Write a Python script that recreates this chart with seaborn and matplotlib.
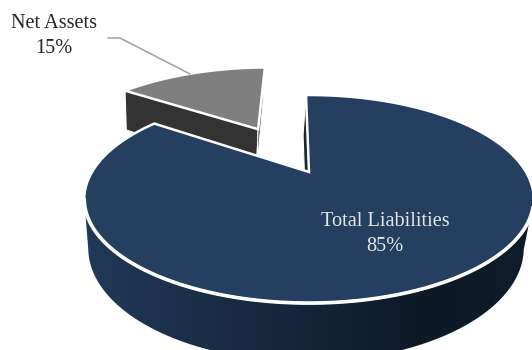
import numpy as np
import matplotlib
matplotlib.use("Agg")
import matplotlib.pyplot as plt
import seaborn as sns
from matplotlib.colors import ListedColormap
from matplotlib.patches import Polygon

# Balance sheet split
categories = ["Total Liabilities", "Net Assets"]
shares = [85, 15]

sns.set_theme(style="white")
plt.rcParams["font.family"] = ["Liberation Serif", "DejaVu Serif"]

START_ANGLE = 91.0      # where the first slice begins, degrees, running clockwise
EXPLODE = [0.0, 0.564]  # how far each slice is pulled away from the centre
ORIGIN = (309.0, 172.0)
SCALE_X, SCALE_Y, DEPTH = 217.0, 97.0, 49.0
TILT, DEPTH_PERSP, DEPTH_SHIFT = 0.26, 0.03, -3.0

TOP_COLORS = ["#243f5f", "#7f7f7f"]
EDGE_COLORS = ["#16273c", "#333333"]
BODY_RAMP = sns.blend_palette(["#21395a", "#1a2e47", "#14253a", "#0e1926", "#101c2b"], 256)


def project(x, y, z=0.0):
    """Perspective projection of pie-plane coordinates to figure pixels."""
    w = 1 + TILT * y + DEPTH_PERSP * z
    return (ORIGIN[0] + (SCALE_X * x) / w + DEPTH_SHIFT * z,
            ORIGIN[1] + (-SCALE_Y * y + DEPTH * z) / w)


fig = plt.figure(figsize=(5.32, 3.5), dpi=100)
ax = fig.add_axes([0, 0, 1, 1])
ax.set_axis_off()

fractions = np.array(shares, dtype=float) / sum(shares)
ends = START_ANGLE - np.cumsum(fractions) * 360
starts = np.r_[START_ANGLE, ends[:-1]]


def draw_slice(i, zorder):
    a0, a1 = starts[i], ends[i]
    mid = np.radians((a0 + a1) / 2)
    ox, oy = EXPLODE[i] * np.cos(mid), EXPLODE[i] * np.sin(mid)
    t = np.radians(np.linspace(a0, a1, 720))
    rx, ry = ox + np.cos(t), oy + np.sin(t)

    # Cut faces, dark, running down from the top surface
    for a in (a0, a1):
        ex, ey = ox + np.cos(np.radians(a)), oy + np.sin(np.radians(a))
        xs, ys = zip(project(ox, oy), project(ex, ey), project(ex, ey, 1), project(ox, oy, 1))
        ax.fill(xs, ys, color=EDGE_COLORS[i], ec="white", lw=0.8, zorder=zorder)

    # Outer wall: the part of the rim facing the viewer, shaded left to right
    front = np.sin(t) < -TILT
    if front.any():
        tx, ty = project(rx[front], ry[front])
        bx, by = project(rx[front][::-1], ry[front][::-1], 1)
        wall = Polygon(np.c_[np.r_[tx, bx], np.r_[ty, by]], closed=True,
                       fc="none", ec="none", transform=ax.transData, zorder=zorder + 0.1)
        ax.add_patch(wall)
        ramp = ListedColormap(BODY_RAMP)
        img = ax.imshow(np.linspace(0, 1, 256)[None, :], cmap=ramp, aspect="auto",
                        extent=(84, 532, 360, 150), zorder=zorder + 0.1)
        img.set_clip_path(wall)

    # Top surface with its white outline, heavier along the near rim
    sx, sy = project(np.r_[ox, rx], np.r_[oy, ry])
    ax.fill(sx, sy, fc=TOP_COLORS[i], ec="white", lw=1.8, joinstyle="miter", zorder=zorder + 0.2)
    if front.any():
        ax.plot(tx, ty, color="white", lw=2.6, solid_capstyle="round", zorder=zorder + 0.3)


draw_slice(1, 1)
draw_slice(0, 2)

# Leader from the outside label to its slice
ax.plot([108, 120, 190], [38, 38, 74], color="#a6a6a6", lw=1.2, zorder=5)

ax.text(385, 234, f"{categories[0]}\n{shares[0]}%", color="#e6e6e6", fontsize=14.6,
        ha="center", va="center", linespacing=1.42, zorder=6)
ax.text(54, 36, f"{categories[1]}\n{shares[1]}%", color="#262626", fontsize=14.6,
        ha="center", va="center", linespacing=1.42, zorder=6)

ax.set_xlim(0, 532)
ax.set_ylim(350, 0)
sns.despine(ax=ax, left=True, bottom=True)
fig.savefig("out.png", dpi=100, facecolor="white")
